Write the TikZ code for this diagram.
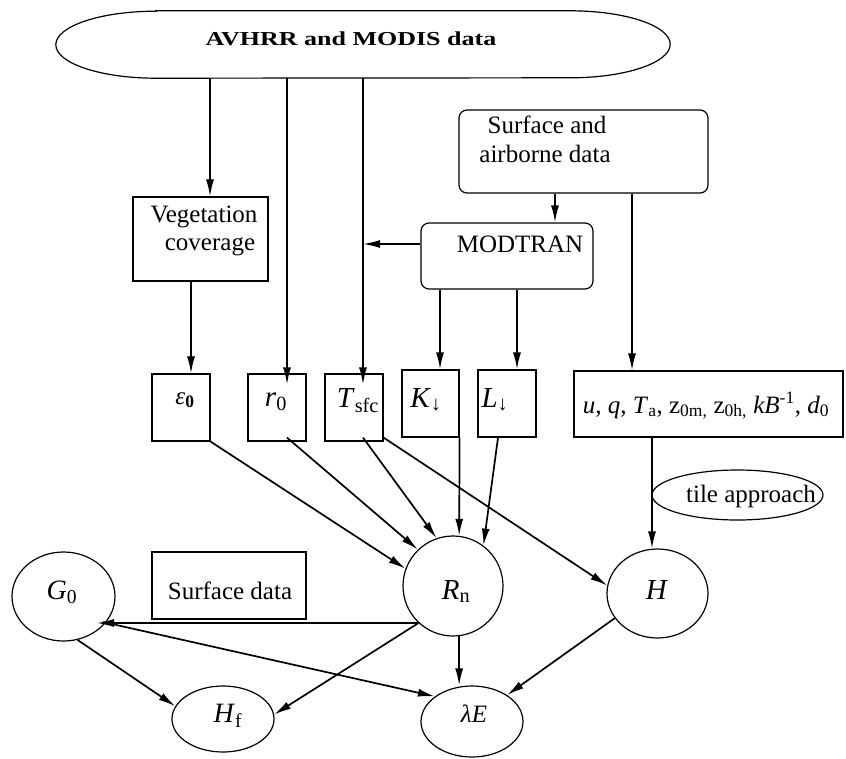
\documentclass[tikz,border=0pt]{standalone}
\usepackage{fontspec}
\setmainfont{Liberation Serif}
\usetikzlibrary{shapes.geometric,arrows.meta}
\begin{document}
\begin{tikzpicture}[x=1pt,y=-1pt,
  box/.style={draw,rectangle,line width=1.2pt,inner sep=0pt},
  rbox/.style={box,rounded corners=8pt},
  ell/.style={draw,ellipse,line width=1.2pt,inner sep=0pt},
  lbl/.style={inner sep=0pt,anchor=base,font=\fontsize{25}{28}\selectfont},
  vlbl/.style={inner sep=0pt,anchor=base,font=\fontsize{29}{32}\selectfont},
  arr/.style={line width=1.7pt,-{Latex[length=17pt,width=8pt]}}
]
\useasboundingbox (0,0) rectangle (846,758);

% top data source
\node[rectangle,minimum width=614,minimum height=67,inner sep=0pt] (avhrr) at (363,44.5) {};
\draw[line width=1.2pt] ([shift={(100,0)}]avhrr.north west) -- ([shift={(-100,0)}]avhrr.north east)
  arc[start angle=-90,end angle=90,x radius=100,y radius=33.5]
  -- ([shift={(100,0)}]avhrr.south west)
  arc[start angle=90,end angle=270,x radius=100,y radius=33.5] -- cycle;
\node[lbl,font=\fontsize{26}{28}\selectfont] (avhrrT) at (351,45) {\scalebox{1}[0.76]{\bfseries AVHRR and MODIS data}};

% boxes
\node[box,minimum width=135,minimum height=84] (veg) at (200.5,239) {};
\node[lbl] (vegA) at (204,222) {Vegetation};
\node[lbl] (vegB) at (210,250) {coverage};

\node[rbox,minimum width=249,minimum height=83] (surf) at (583.5,151.5) {};
\node[lbl] (surfA) at (547,133) {Surface and};
\node[lbl] (surfB) at (545,162) {airborne data};

\node[rbox,minimum width=172,minimum height=66] (modtran) at (507,256) {};
\node[lbl] (modT) at (520,252) {MODTRAN};

\node[box,minimum width=58,minimum height=67] (eps) at (181,407.5) {};
\node[vlbl,font=\fontsize{25}{28}\selectfont] (epsT) at (185,404) {{\itshape ε}\textsubscript{\bfseries 0}};
\node[box,minimum width=58,minimum height=67] (rzero) at (277,407.5) {};
\node[vlbl] (rzeroT) at (276,406) {\textit{r}\textsubscript{0}};
\node[box,minimum width=58,minimum height=67] (tsfc) at (354,407.5) {};
\node[vlbl] (tsfcT) at (358,407) {\textit{T}\textsubscript{sfc}};
\node[box,minimum width=57,minimum height=67] (kdn) at (430.5,403.5) {};
\node[vlbl] (kdnT) at (426,407) {\textit{K}\textsubscript{↓}};
\node[box,minimum width=58,minimum height=67] (ldn) at (507,403.5) {};
\node[vlbl] (ldnT) at (495,407) {\textit{L}\textsubscript{↓}};
\node[box,minimum width=269,minimum height=66] (ubox) at (708.5,404) {};
\node[lbl] (uboxT) at (706,413) {\textit{u}, \textit{q}, \textit{T}\textsubscript{a}, z\textsubscript{0m,} z\textsubscript{0h,} \textit{kB}\textsuperscript{-1}, \textit{d}\textsubscript{0}};

\node[ell,minimum width=171,minimum height=50] (tile) at (737.5,495) {};
\node[lbl] (tileT) at (751,502) {tile approach};

% flux nodes
\node[draw,circle,line width=1.2pt,minimum size=100,inner sep=0pt] (Rn) at (453,586) {};
\node[vlbl] (RnT) at (456,599) {\textit{R}\textsubscript{n}};
\node[ell,minimum width=101,minimum height=89] (H) at (657.5,593.5) {};
\node[vlbl] (HT) at (657,599) {\textit{H}};
\node[ell,minimum width=103,minimum height=89] (G0) at (63.5,596.5) {};
\node[lbl,font=\fontsize{28}{30}\selectfont] (G0T) at (62,599) {\textit{G}\textsubscript{0}};
\node[box,minimum width=154,minimum height=67] (sdata) at (229,585.5) {};
\node[lbl] (sdataT) at (230,599) {Surface data};
\node[ell,minimum width=102,minimum height=66] (Hf) at (223,719) {};
\node[lbl,font=\fontsize{28}{30}\selectfont] (HfT) at (228,722) {\textit{H}\textsubscript{f}};
\node[ell,minimum width=102,minimum height=71] (lE) at (472,721.5) {};
\node[lbl,font=\fontsize{25}{28}\selectfont] (lET) at (474,722) {\textit{λE}};

% helper coordinates
\coordinate (vegIn) at ([shift={(9.5,0)}]veg.north);
\coordinate (rzeroIn) at ([shift={(10,11)}]rzero.north);
\coordinate (tsfcIn) at ([shift={(9,11)}]tsfc.north);
\coordinate (vegOut) at ([shift={(-9.5,0)}]veg.south);
\coordinate (surfOutA) at ([shift={(-28.5,0)}]surf.south);
\coordinate (surfOutB) at ([shift={(48.5,0)}]surf.south);
\coordinate (modOut) at ([shift={(0,-12)}]modtran.west);
\coordinate (modOutK) at ([shift={(9.5,0)}]kdn.north |- modtran.south);
\coordinate (modOutL) at ([shift={(10,0)}]ldn.north |- modtran.south);
\coordinate (uOut) at ([shift={(-56.5,0)}]ubox.south);
\coordinate (gTip) at (97,619);
\coordinate (gStart) at (103,622);

% connectors from the top
\draw[arr] (vegIn |- avhrr.south) -- (vegIn);
\draw[arr] (rzeroIn |- avhrr.south) -- (rzeroIn);
\draw[arr] (tsfcIn |- avhrr.south) -- (tsfcIn);
\draw[arr] (vegOut) -- (vegOut |- eps.north);
\draw[arr] (surfOutA) -- (surfOutA |- modtran.north);
\draw[arr] (surfOutB) -- (surfOutB |- ubox.north);
\draw[arr] (modOut) -- (modOut -| tsfcIn);
\draw[arr] (modOutK) -- (modOutK |- kdn.north);
\draw[arr] (modOutL) -- (modOutL |- ldn.north);
\draw[arr] (uOut) -- (uOut |- H.north);

% into Rn and H
\draw[arr] (eps.south east) -- (Rn.160);
\draw[arr] ([shift={(10,-4)}]rzero.south) -- (Rn.134);
\draw[arr] ([shift={(9,-4)}]tsfc.south) -- (Rn.109);
\draw[arr] (kdn.south east) -- (Rn.83);
\draw[arr] ([shift={(-9,0)}]ldn.south) -- (Rn.53);
\draw[arr] ([shift={(0,-4)}]tsfc.south east) -- (H.171);

% lower part
\draw[arr] (Rn.227) -- (Rn.227 -| gTip);
\draw[arr] (gStart) -- (lE.146);
\draw[arr] (G0.288) -- (Hf.165);
\draw[arr] (Rn.227) -- (Hf.5);
\draw[arr] (Rn.-83) -- (Rn.-83 |- lE.north);
\draw[arr] (H.210) -- (lE.37);
\end{tikzpicture}
\end{document}
